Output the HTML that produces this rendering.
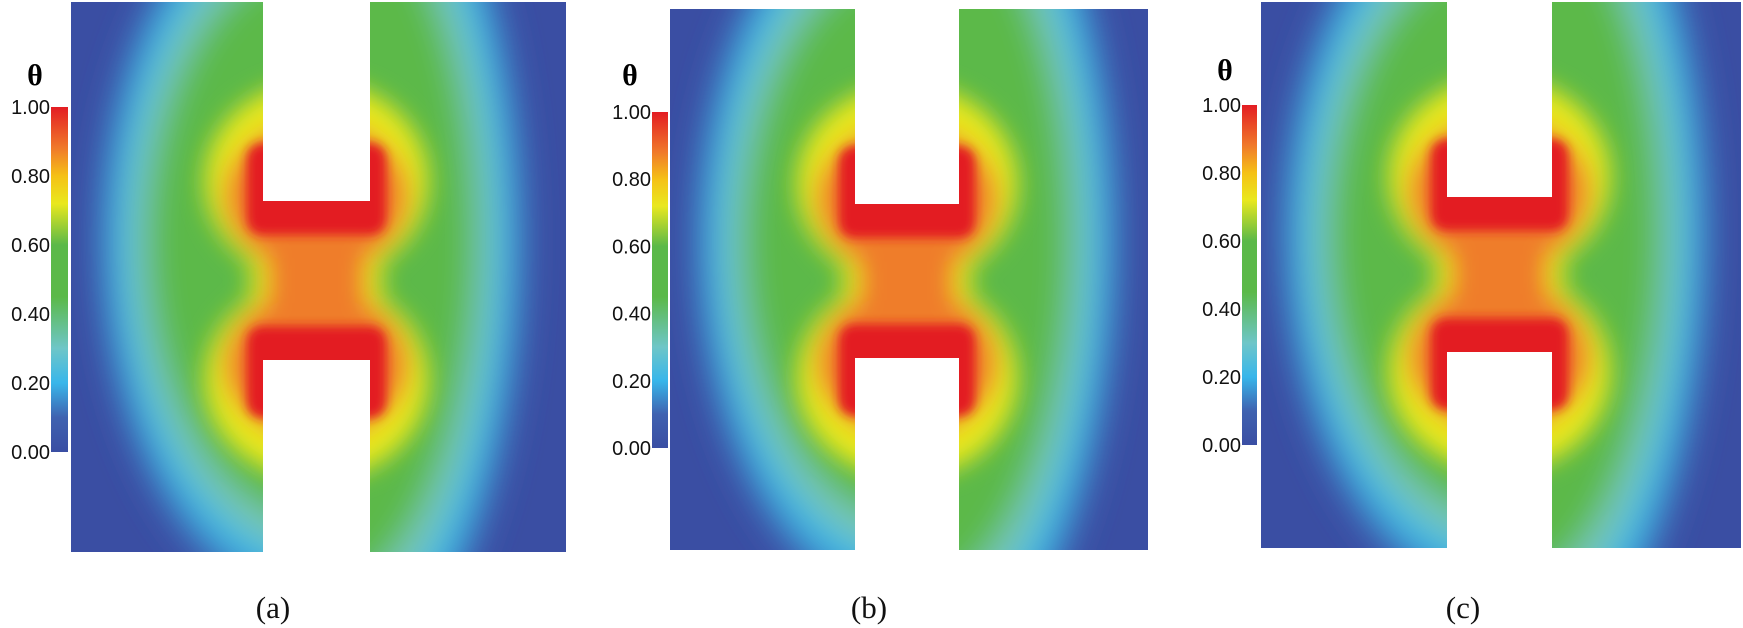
<!DOCTYPE html>
<html><head><meta charset="utf-8"><style>
html,body{margin:0;padding:0;background:#fff;overflow:hidden;width:1743px;height:628px;}
svg{display:block;}
</style></head><body>
<svg id="fig" width="1743" height="628" viewBox="0 0 1743 628" xmlns="http://www.w3.org/2000/svg">
<defs>
<linearGradient id="cbar" x1="0" y1="1" x2="0" y2="0">
<stop offset="0" stop-color="#3a4ea3"/>
<stop offset="0.1" stop-color="#3f62b0"/>
<stop offset="0.2" stop-color="#38b6ea"/>
<stop offset="0.3" stop-color="#6ec6c8"/>
<stop offset="0.45" stop-color="#5bb948"/>
<stop offset="0.6" stop-color="#5bb948"/>
<stop offset="0.72" stop-color="#e9e81e"/>
<stop offset="0.8" stop-color="#f5c116"/>
<stop offset="0.88" stop-color="#f07a2a"/>
<stop offset="1" stop-color="#e31d23"/>
</linearGradient>
<filter id="b16" x="-50%" y="-50%" width="200%" height="200%"><feGaussianBlur stdDeviation="16"/></filter>
<filter id="b10" x="-50%" y="-50%" width="200%" height="200%"><feGaussianBlur stdDeviation="12"/></filter>
<filter id="b4" x="-50%" y="-50%" width="200%" height="200%"><feGaussianBlur stdDeviation="5"/></filter>
</defs>
</svg>
<script>
const tickValues = [1.00, 0.80, 0.60, 0.40, 0.20, 0.00];
const panelLabels = ['(a)', '(b)', '(c)'];
const panels = [
 {id:'a', L:71, R:566, T:2, B:552, sL:263, sR:370, yt:201, yb:360, cbx:51, cbw:17, cbT:107, cbB:452, thx:35, thy:85, capx:273, rxL:206, rxR:196},
 {id:'b', L:670, R:1148, T:9, B:550, sL:855, sR:959, yt:204, yb:358, cbx:652, cbw:16, cbT:112, cbB:448, thx:630, thy:85, capx:869, rxL:200, rxR:200},
 {id:'c', L:1261, R:1741, T:2, B:548, sL:1447, sR:1552, yt:197, yb:352, cbx:1242, cbw:15, cbT:105, cbB:445, thx:1225, thy:80, capx:1463, rxL:206, rxR:198}
];
const NS='http://www.w3.org/2000/svg';
const svg=document.getElementById('fig');
function mk(tag, attrs, parent){
  const e=document.createElementNS(NS,tag);
  for(const k in attrs) e.setAttribute(k, attrs[k]);
  (parent||svg).appendChild(e);
  return e;
}
panels.forEach((p,i)=>{
  const g=mk('g',{});
  
  
  const cp=mk('clipPath',{id:'clip'+p.id},svg.querySelector('defs'));
  mk('rect',{x:p.L,y:p.T,width:p.R-p.L,height:p.B-p.T},cp);
  const field=mk('g',{'clip-path':'url(#clip'+p.id+')'},g);
  
  
  mk('rect',{x:p.L,y:p.T,width:p.R-p.L,height:p.B-p.T,fill:'#3a4ea3'},field);
  const cx=(p.sL+p.sR)/2, cy=(p.yt+p.yb)/2, w=p.sR-p.sL;
  const ecy=cy-40;
  const soft=mk('g',{filter:'url(#b16)'},field);
  [[p.rxL,-1,345],[p.rxR,1,440]].forEach(([rx,s,ryb])=>{
    const layers=[[rx+14,'#3f7fc4'],[rx,'#3ab8e6'],[rx-18,'#78c6b8'],[rx-38,'#5bb948']];
    layers.forEach(([r,c])=>{
      const id='h'+p.id+(s<0?'L':'R')+r;
      const cl=mk('clipPath',{id:id},svg.querySelector('defs'));
      mk('rect',{x:s<0?cx-400:cx,y:-100,width:400,height:900},cl);
      mk('ellipse',{cx:cx,cy:ecy,rx:r,ry:ryb*r/rx,fill:c,'clip-path':'url(#'+id+')'},soft);
    });
  });
  const mid=mk('g',{filter:'url(#b10)'},field);
  mk('ellipse',{cx:cx,cy:p.yt-20,rx:w/2+58,ry:100,fill:'#e9e81e'},mid);
  mk('ellipse',{cx:cx,cy:p.yb+20,rx:w/2+58,ry:100,fill:'#e9e81e'},mid);
  mk('rect',{x:p.sL-12,y:p.yt,width:w+24,height:p.yb-p.yt,fill:'#e9e81e'},mid);
  mk('ellipse',{cx:cx,cy:p.yt-5,rx:w/2+38,ry:75,fill:'#f07a2a'},mid);
  mk('ellipse',{cx:cx,cy:p.yb+5,rx:w/2+38,ry:75,fill:'#f07a2a'},mid);
  mk('rect',{x:p.sL+4,y:p.yt,width:w-8,height:p.yb-p.yt,fill:'#ef7d2c'},mid);
  const hot=mk('g',{filter:'url(#b4)'},field);
  mk('rect',{x:p.sL-16,y:p.yt-58,width:w+32,height:92,rx:16,fill:'#e31d23'},hot);
  mk('rect',{x:p.sL-16,y:p.yb-34,width:w+32,height:92,rx:16,fill:'#e31d23'},hot);
  const s1=mk('rect',{x:p.sL,y:0,width:w,height:p.yt,fill:'#fff'},field);
  
  
  const s2=mk('rect',{x:p.sL,y:p.yb,width:w,height:p.B-p.yb,fill:'#fff'},field);
  
  
  const cb=mk('rect',{x:p.cbx,y:p.cbT,width:p.cbw,height:p.cbB-p.cbT,fill:'url(#cbar)'},g);
  
  
  const th=mk('text',{x:p.thx,y:p.thy,'text-anchor':'middle','font-family':'Liberation Serif, serif','font-weight':'bold','font-size':'30'},g);
  th.textContent='θ';
  
  
  tickValues.forEach(v=>{
    const y=p.cbB-(v-0)/(1-0)*(p.cbB-p.cbT);
    const t=mk('text',{x:p.cbx-1,y:y+7,'text-anchor':'end','font-family':'Liberation Sans, sans-serif','font-size':'20',fill:'#111'},g);
    t.textContent=v.toFixed(2);
    
    
  });
  const cap=mk('text',{x:p.capx,y:618,'text-anchor':'middle','font-family':'Liberation Serif, serif','font-size':'31',fill:'#111'},g);
  cap.textContent=panelLabels[i];
  
  
});
</script>
</body></html>
